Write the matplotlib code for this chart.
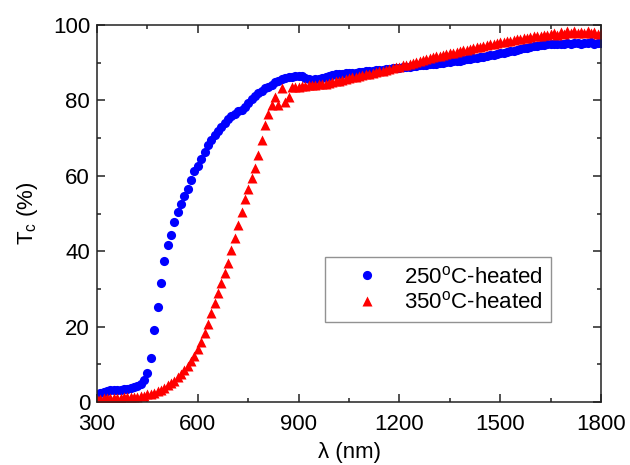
import numpy as np
import matplotlib
matplotlib.use("Agg")
import matplotlib.pyplot as plt
from matplotlib.ticker import MultipleLocator

plt.rcParams['font.family'] = ['Liberation Sans', 'DejaVu Sans']
plt.rcParams['mathtext.fontset'] = 'custom'
plt.rcParams['mathtext.rm'] = 'Liberation Sans'

# wavelength grid (nm), 10 nm steps
wavelength = np.arange(300, 1810, 10)

# T_c (%) for the 250 C heated film
t_250 = [
    1.8, 2.3, 2.6, 2.9, 3.1, 3.2, 3.2, 3.3, 3.4, 3.5,
    3.6, 3.9, 4.3, 4.9, 5.9, 7.6, 11.8, 19.1, 25.3, 31.5,
    37.3, 41.6, 44.3, 47.7, 50.3, 52.5, 54.6, 56.5, 59.0, 61.2,
    62.7, 64.5, 66.4, 68.2, 69.6, 70.8, 71.9, 72.9, 74.0, 75.0,
    75.8, 76.5, 77.2, 77.6, 78.2, 79.3, 80.5, 81.3, 82.0, 82.6,
    83.2, 83.6, 84.0, 84.8, 85.3, 85.6, 85.9, 86.1, 86.3, 86.5,
    86.6, 86.4, 86.0, 85.6, 85.5, 85.6, 85.8, 86.0, 86.2, 86.5,
    86.8, 86.9, 87.0, 87.1, 87.2, 87.3, 87.4, 87.4, 87.5, 87.6,
    87.7, 87.8, 87.9, 88.0, 88.1, 88.2, 88.3, 88.4, 88.5, 88.6,
    88.7, 88.8, 88.9, 89.0, 89.1, 89.2, 89.3, 89.4, 89.5, 89.6,
    89.7, 89.8, 89.9, 90.0, 90.2, 90.3, 90.4, 90.5, 90.6, 90.8,
    90.9, 91.0, 91.2, 91.3, 91.5, 91.6, 91.8, 92.0, 92.2, 92.3,
    92.5, 92.7, 92.8, 93.0, 93.2, 93.4, 93.6, 93.8, 94.0, 94.2,
    94.4, 94.5, 94.6, 94.8, 94.9, 95.0, 95.0, 95.1, 94.9, 95.1,
    95.2, 95.0, 95.3, 95.2, 95.0, 95.3, 95.2, 95.4, 95.1, 95.3,
    95.2,
]

# T_c (%) for the 350 C heated film
t_350 = [
    0.8, 0.9, 1.0, 1.0, 1.0, 1.1, 1.1, 1.1, 1.2, 1.2,
    1.2, 1.3, 1.3, 1.5, 1.7, 2.0, 2.2, 2.5, 2.8, 3.3,
    3.8, 4.4, 5.0, 5.7, 6.5, 7.4, 8.4, 9.5, 10.8, 12.3,
    14.0, 16.0, 18.2, 20.8, 23.5, 26.2, 28.8, 31.6, 34.3, 37.0,
    40.2, 43.6, 47.0, 50.5, 53.8, 56.5, 59.5, 62.0, 65.5, 69.5,
    73.5, 76.5, 78.8, 81.0, 78.8, 83.2, 79.5, 80.8, 83.6, 83.6,
    83.7, 83.8, 83.9, 84.0, 84.1, 84.2, 84.3, 84.4, 84.5, 84.7,
    84.9, 85.1, 85.3, 85.5, 85.7, 85.9, 86.1, 86.3, 86.5, 86.7,
    86.9, 87.1, 87.3, 87.5, 87.7, 87.9, 88.2, 88.4, 88.6, 88.8,
    89.0, 89.3, 89.5, 89.8, 90.0, 90.3, 90.5, 90.8, 91.0, 91.2,
    91.5, 91.7, 91.9, 92.1, 92.3, 92.5, 92.7, 92.9, 93.1, 93.3,
    93.5, 93.7, 93.9, 94.1, 94.3, 94.5, 94.7, 94.9, 95.1, 95.3,
    95.5, 95.6, 95.8, 95.9, 96.1, 96.2, 96.4, 96.5, 96.7, 96.8,
    97.0, 97.1, 97.2, 97.3, 97.4, 97.6, 97.9, 97.5, 98.3, 97.7,
    98.4, 97.8, 98.5, 97.9, 98.3, 97.8, 98.4, 97.9, 98.2, 97.7,
    98.0,
]

labels = ['250$^\\mathrm{o}$C-heated', '350$^\\mathrm{o}$C-heated']

fig = plt.figure(figsize=(6.3, 4.65), dpi=100)
ax = fig.add_axes([0.154, 0.1355, 0.8, 0.8105])

ax.plot(wavelength, t_250, 'o', color='#0000ff', ms=6.6, mec='none', label=labels[0])
ax.plot(wavelength, t_350, '^', color='#ff0000', ms=7.6, mec='none', label=labels[1])

ax.set_xlim(300, 1800)
ax.set_ylim(0, 100)
ax.xaxis.set_major_locator(MultipleLocator(300))
ax.xaxis.set_minor_locator(MultipleLocator(150))
ax.yaxis.set_major_locator(MultipleLocator(20))
ax.yaxis.set_minor_locator(MultipleLocator(10))
ax.tick_params(which='both', direction='in', top=True, right=True, width=1.1, colors='#222222',
               labelsize=16, labelcolor='black')
ax.tick_params(which='major', length=5.5)
ax.tick_params(which='minor', length=3)
ax.tick_params(axis='x', which='major', pad=9)
ax.tick_params(axis='y', which='major', pad=5)
for s in ax.spines.values():
    s.set_linewidth(1.1)
    s.set_color('#222222')

ax.set_xlabel('\u03bb (nm)', fontsize=16, labelpad=5)
ax.set_ylabel('T$_\\mathrm{c}$ (%)', fontsize=16, labelpad=9)

# legend box sits in the lower middle of the plot
leg = ax.legend(loc='upper left', bbox_to_anchor=(0.452, 0.384), fontsize=16, frameon=True,
                fancybox=False, edgecolor='#777777', handletextpad=0.15, borderpad=0.4,
                labelspacing=0.15, handlelength=3.0, borderaxespad=0)
leg.get_frame().set_linewidth(1.0)

fig.savefig('out.png', dpi=100)
